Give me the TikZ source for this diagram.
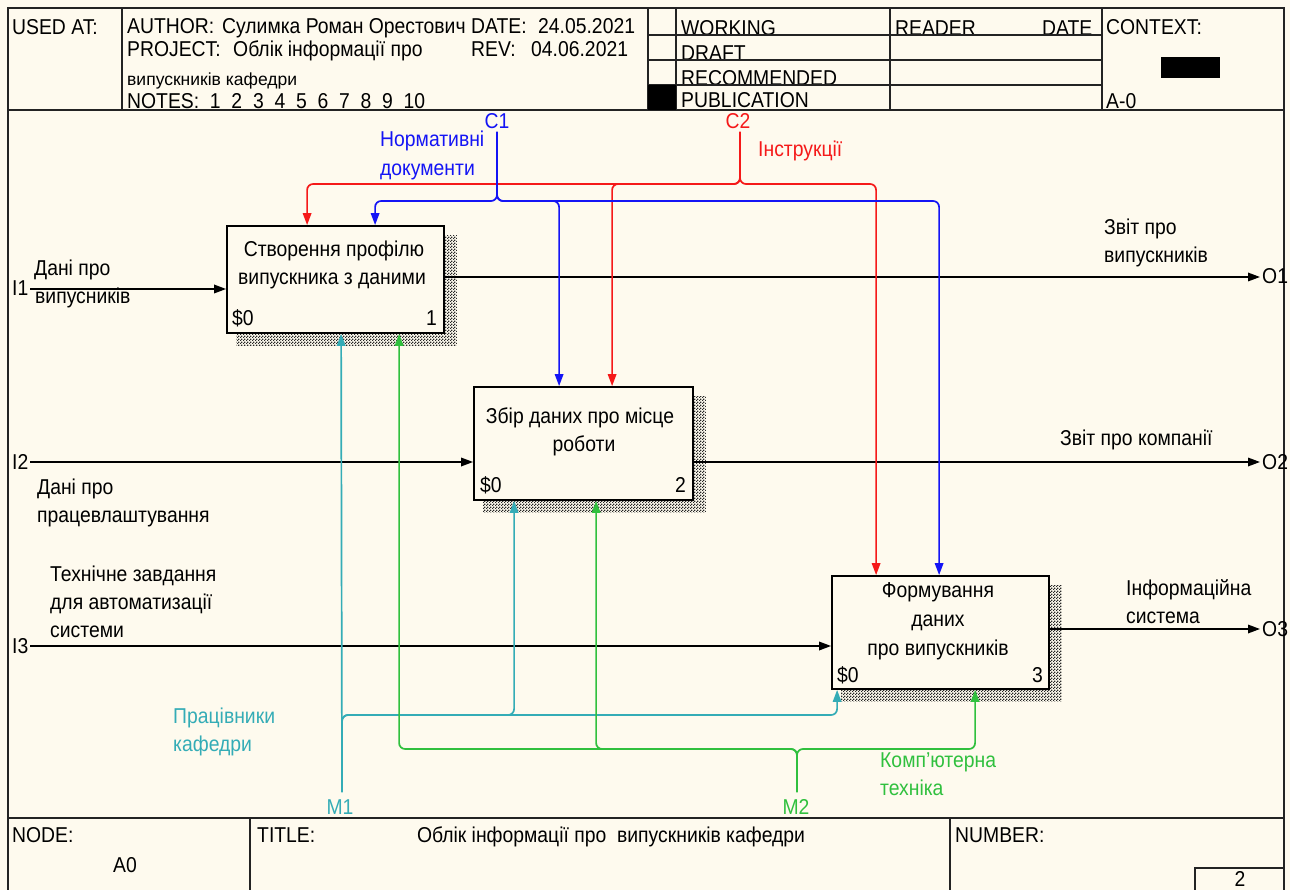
\documentclass[tikz,border=0pt]{standalone}
\usepackage{fontspec}
\setmainfont{Liberation Sans}[FakeStretch=0.9]
\newfontfamily\plainsans{Liberation Sans}
\usetikzlibrary{arrows.meta,patterns,backgrounds}
\definecolor{paper}{RGB}{254,250,238}
\definecolor{frame}{RGB}{35,35,35}
\definecolor{ctlblue}{RGB}{20,20,245}
\definecolor{ctlred}{RGB}{245,25,25}
\definecolor{mechteal}{RGB}{52,172,182}
\definecolor{mechgreen}{RGB}{48,192,62}
% fine checker used for the box shadows
\pgfdeclarepatternformonly{finechecker}{\pgfpointorigin}{\pgfqpoint{3pt}{3pt}}{\pgfqpoint{3pt}{3pt}}{%
  \pgfpathrectangle{\pgfpointorigin}{\pgfqpoint{1.5pt}{1.5pt}}%
  \pgfpathrectangle{\pgfqpoint{1.5pt}{1.5pt}}{\pgfqpoint{1.5pt}{1.5pt}}%
  \pgfusepath{fill}}
\begin{document}
\begin{tikzpicture}[x=1pt,y=-1pt,
  txt/.style={inner sep=0pt, font=\fontsize{21.5}{28}\selectfont, anchor=base west},
  ctxt/.style={txt, anchor=base},
  rtxt/.style={txt, anchor=base east},
  rule/.style={line width=1.6pt, draw=frame},
  fbox/.style={draw=black, line width=1.8pt, fill=paper, inner sep=0pt},
  shadowfill/.style={pattern=finechecker, pattern color=black!85},
  flow/.style={line width=1.7pt, -{Triangle[length=12pt,width=8.5pt]}},
  ctl/.style={flow, rounded corners=6pt},
]
\useasboundingbox (0,0) rectangle (1290,890);
\clip (0,0) rectangle (1290,890);

% ---------- header texts ----------
\node[txt] (usedat) at (12,35) {USED AT:};
\node[txt] (author) at (127,34) {AUTHOR:};
\node[txt] (authorname) at (222,34) {Сулимка Роман Орестович};
\node[txt] (datek) at (471,34) {DATE:};
\node[txt] (datev) at (538,34) {24.05.2021};
\node[txt] (project) at (127,57) {PROJECT:};
\node[txt] (projectname) at (233,57) {Облік інформації про};
\node[txt] (revk) at (471,57) {REV:};
\node[txt] (revv) at (531,57) {04.06.2021};
\node[txt, font=\plainsans\fontsize{17.5}{20}\selectfont] (project2) at (127,86) {випускників кафедри};
\node[txt] (notes) at (127,109) {NOTES:\ \ 1\ \ 2\ \ 3\ \ 4\ \ 5\ \ 6\ \ 7\ \ 8\ \ 9\ \ 10};
\node[txt] (working) at (681,36) {WORKING};
\node[txt] (draft) at (681,61) {DRAFT};
\node[txt] (recom) at (681,86) {RECOMMENDED};
\node[txt, text depth=0pt] (publ) at (681,108) {PUBLICATION};
\node[txt] (reader) at (895,36) {READER};
\node[txt] (rdate) at (1042,36) {DATE};
\node[txt] (context) at (1106,35) {CONTEXT:};
\node[txt] (ctxnode) at (1106,109) {A-0};

% ---------- frame ----------
\draw[rule] (8,896) -- (8,8) -- (1284,8) -- (1284,896);
\draw[rule] (8,110) -- (1284,110);
\draw[rule] (8,818) -- (1284,818);
\draw[rule] (122,8) -- (122,110);
\draw[rule] (648,8) -- (648,110);
\draw[rule] (676,8) -- (676,110);
\draw[rule] (890,8) -- (890,110);
\draw[rule] (1102,8) -- (1102,110);
\foreach \y in {35,60,85} \draw[rule] (648,\y) -- (1102,\y);
\fill[black] (648,85) rectangle (676,110);
\fill[black] (1161,57) rectangle (1220,78);
\draw[rule] (250,818) -- (250,896);
\draw[rule] (950,818) -- (950,896);
\draw[rule] (1195,896) -- (1195,868) -- (1284,868);

% ---------- footer texts ----------
\node[txt] (nodek) at (12,842) {NODE:};
\node[txt] (nodev) at (113,872) {A0};
\node[txt] (titlek) at (257,842) {TITLE:};
\node[ctxt] (titlev) at (611,842) {Облік інформації про\ \ випускників кафедри};
\node[txt] (numberk) at (955,842) {NUMBER:};
\node[ctxt] (numberv) at (1240,886) {2};

% ---------- activity boxes ----------
\node[fbox, minimum width=217pt, minimum height=107pt] (b1) at (335.5,279.5) {};
\node[fbox, minimum width=219pt, minimum height=113pt] (b2) at (583.5,443.5) {};
\node[fbox, minimum width=217pt, minimum height=113pt] (b3) at (940.5,632.5) {};

\begin{scope}[on background layer]
  \fill[paper] (0,0) rectangle (1290,890);
  \foreach \b in {b1,b2,b3}
    \fill[shadowfill] ([shift={(10,10)}]\b.north west) rectangle ([shift={(12,12)}]\b.south east);
\end{scope}

\node[ctxt] (b1l1) at (334,257) {Створення профілю};
\node[ctxt] (b1l2) at (332,285) {випускника з даними};
\node[txt] (b1s) at (232,326) {\$0};
\node[rtxt] (b1n) at (437,326) {1};

\node[ctxt] (b2l1) at (580,423) {Збір даних про місце};
\node[ctxt] (b2l2) at (584,451) {роботи};
\node[txt] (b2s) at (480,492) {\$0};
\node[rtxt] (b2n) at (686,492) {2};

\node[ctxt] (b3l1) at (938,597) {Формування};
\node[ctxt] (b3l2) at (938,626) {даних};
\node[ctxt] (b3l3) at (938,655) {про випускників};
\node[txt] (b3s) at (837,682) {\$0};
\node[rtxt] (b3n) at (1043,682) {3};

% ---------- arrow ends and buses ----------
\coordinate (i1) at (30,289);
\coordinate (i2) at (30,462);
\coordinate (i3) at (30,646);
\coordinate (o1) at (1260,277);
\coordinate (o2) at (1260,462);
\coordinate (o3) at (1260,629);
\coordinate (c1) at (497,132);
\coordinate (c2) at (740,132);
\coordinate (m1) at (342,792);
\coordinate (m2) at (797,792);
\coordinate (busc2) at (0,184);
\coordinate (busc1) at (0,201);
\coordinate (busm1) at (0,715);
\coordinate (busm2) at (0,749);

% ports on the boxes
\path (b1.north west) ++(81,0) coordinate (b1cr);
\path (b1.north west) ++(149,0) coordinate (b1cb);
\path (b1.south west) ++(115,0) coordinate (b1mt);
\path (b1.south west) ++(173,0) coordinate (b1mg);
\path (b2.north west) ++(86,0) coordinate (b2cb);
\path (b2.north west) ++(139,0) coordinate (b2cr);
\path (b2.south west) ++(41,0) coordinate (b2mt);
\path (b2.south west) ++(123,0) coordinate (b2mg);
\path (b3.north west) ++(45,0) coordinate (b3cr);
\path (b3.north west) ++(108,0) coordinate (b3cb);
\path (b3.south west) ++(6,0) coordinate (b3mt);
\path (b3.south west) ++(144,0) coordinate (b3mg);

% ---------- inputs and outputs ----------
\draw[flow] (i1) -- (i1 -| b1.west);
\draw[flow] (i2) -- (i2 -| b2.west);
\draw[flow] (i3) -- (i3 -| b3.west);
\draw[flow] (o1 -| b1.east) -- (o1);
\draw[flow] (o2 -| b2.east) -- (o2);
\draw[flow] (o3 -| b3.east) -- (o3);

% ---------- controls ----------
\draw[ctl, ctlred] (c2) |- (b1cr |- busc2) -- (b1cr);
\draw[ctl, ctlred] (c2) |- (b2cr |- busc2) -- (b2cr);
\draw[ctl, ctlred] (c2) |- (b3cr |- busc2) -- (b3cr);
\draw[ctl, ctlblue] (c1) |- (b1cb |- busc1) -- (b1cb);
\draw[ctl, ctlblue] (c1) |- (b2cb |- busc1) -- (b2cb);
\draw[ctl, ctlblue] (c1) |- (b3cb |- busc1) -- (b3cb);

% ---------- mechanisms ----------
\draw[ctl, mechteal] (m1) -- (b1mt);
\draw[ctl, mechteal] (m1) |- (b2mt |- busm1) -- (b2mt);
\draw[ctl, mechteal] (m1) |- (b3mt |- busm1) -- (b3mt);
\draw[ctl, mechgreen] (m2) |- (b1mg |- busm2) -- (b1mg);
\draw[ctl, mechgreen] (m2) |- (b2mg |- busm2) -- (b2mg);
\draw[ctl, mechgreen] (m2) |- (b3mg |- busm2) -- (b3mg);

% ---------- arrow labels ----------
\node[txt] (li1) at (12,296) {I1};
\node[txt] (ti1a) at (34,276) {Дані про};
\node[txt] (ti1b) at (35,304) {випусників};
\node[txt] (li2) at (12,469) {I2};
\node[txt] (ti2a) at (37,494) {Дані про};
\node[txt] (ti2b) at (37,522) {працевлаштування};
\node[txt] (li3) at (12,653) {I3};
\node[txt] (ti3a) at (50,581) {Технічне завдання};
\node[txt] (ti3b) at (50,609) {для автоматизації};
\node[txt] (ti3c) at (50,637) {системи};

\node[txt] (lo1) at (1262,284) {O1};
\node[txt] (to1a) at (1104,235) {Звіт про};
\node[txt] (to1b) at (1104,263) {випускників};
\node[txt] (lo2) at (1262,469) {O2};
\node[txt] (to2) at (1060,445) {Звіт про компанії};
\node[txt] (lo3) at (1262,636) {O3};
\node[txt] (to3a) at (1126,595) {Інформаційна};
\node[txt] (to3b) at (1126,623) {система};

\node[ctxt, text=ctlblue] (lc1) at (497,129) {C1};
\node[txt, text=ctlblue] (tc1a) at (380,147) {Нормативні};
\node[txt, text=ctlblue] (tc1b) at (380,176) {документи};
\node[ctxt, text=ctlred] (lc2) at (738,129) {C2};
\node[txt, text=ctlred] (tc2) at (758,157) {Інструкції};

\node[ctxt, text=mechteal] (lm1) at (340,814) {M1};
\node[txt, text=mechteal] (tm1a) at (173,723) {Працівники};
\node[txt, text=mechteal] (tm1b) at (173,751) {кафедри};
\node[ctxt, text=mechgreen] (lm2) at (796,814) {M2};
\node[txt, text=mechgreen] (tm2a) at (880,767) {Комп'ютерна};
\node[txt, text=mechgreen] (tm2b) at (880,795) {техніка};
\end{tikzpicture}
\end{document}
